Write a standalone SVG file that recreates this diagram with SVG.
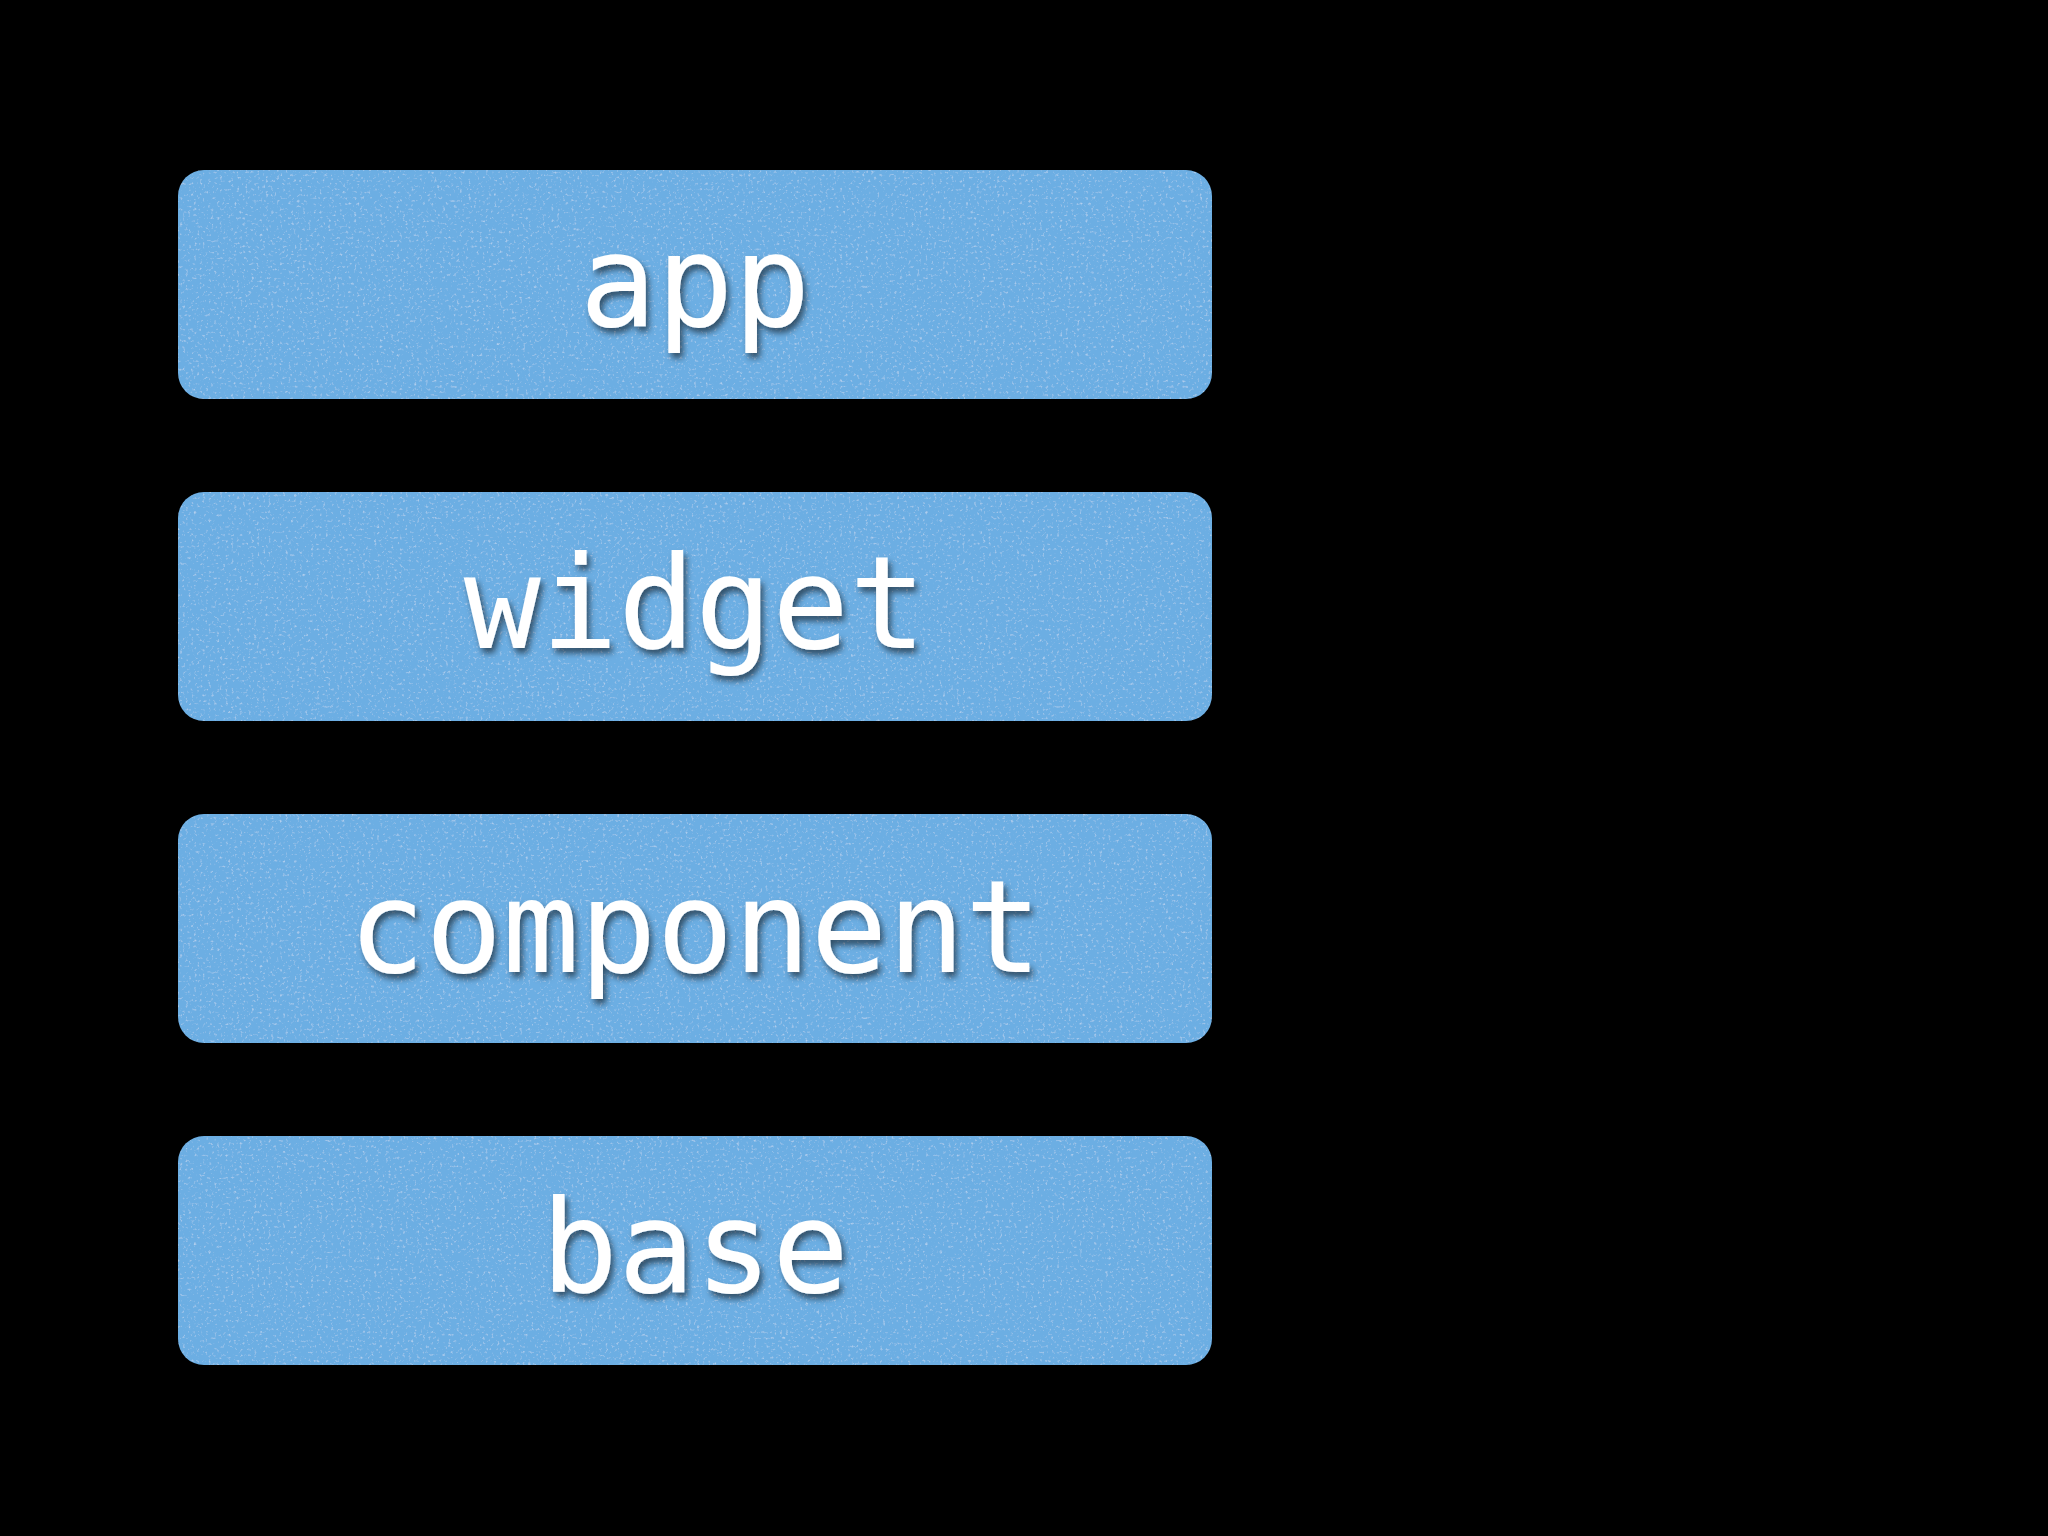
<svg xmlns="http://www.w3.org/2000/svg" width="2048" height="1536" viewBox="0 0 2048 1536">
  <defs>
    <filter id="tex" x="0" y="0" width="100%" height="100%">
      <feTurbulence type="fractalNoise" baseFrequency="0.35" numOctaves="2" seed="7" result="n"/>
      <feColorMatrix in="n" type="matrix" values="0 0 0 0 1  0 0 0 0 1  0 0 0 0 1  0 0 0 3.2 -1.9" result="specks"/>
      <feComposite in="specks" in2="SourceGraphic" operator="in" result="sp"/>
      <feComponentTransfer in="sp" result="sp2"><feFuncA type="linear" slope="0.35"/></feComponentTransfer>
      <feMerge><feMergeNode in="SourceGraphic"/><feMergeNode in="sp2"/></feMerge>
    </filter>
    <filter id="shadow" x="-10%" y="-20%" width="120%" height="150%">
      <feDropShadow dx="3" dy="5" stdDeviation="3" flood-color="#000" flood-opacity="0.55"/>
    </filter>
  </defs>
  <style>
    .box { fill: #6caee3; }
    .lbl { font-family: "DejaVu Sans Mono", "Liberation Mono", monospace; font-size: 128px; fill: #ffffff; text-anchor: middle; }
  </style>
  <rect width="2048" height="1536" fill="#000"/>
  <g id="connectors"></g>
  <g id="node-app">
    <rect class="box" x="178" y="170" width="1034" height="229" rx="26" filter="url(#tex)"/>
    <text class="lbl" x="695" y="326" filter="url(#shadow)">app</text>
  </g>
  <g id="node-widget">
    <rect class="box" x="178" y="492" width="1034" height="229" rx="26" filter="url(#tex)"/>
    <text class="lbl" x="695" y="648" filter="url(#shadow)">widget</text>
  </g>
  <g id="node-component">
    <rect class="box" x="178" y="814" width="1034" height="229" rx="26" filter="url(#tex)"/>
    <text class="lbl" x="695" y="972" filter="url(#shadow)">component</text>
  </g>
  <g id="node-base">
    <rect class="box" x="178" y="1136" width="1034" height="229" rx="26" filter="url(#tex)"/>
    <text class="lbl" x="695" y="1292" filter="url(#shadow)">base</text>
  </g>
</svg>
